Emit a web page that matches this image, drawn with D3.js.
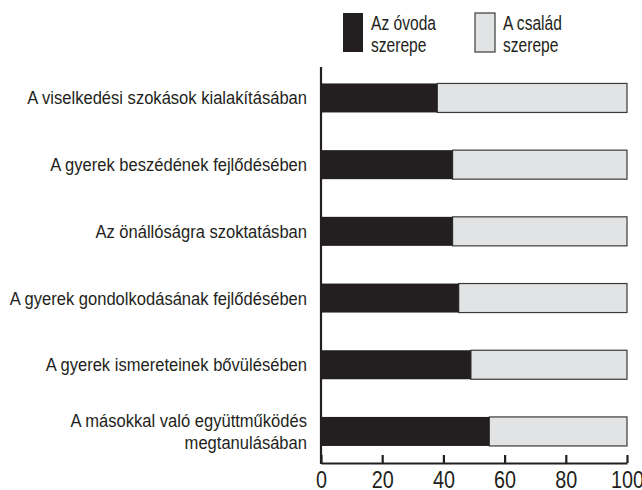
<html>
<head>
<meta charset="utf-8">
<style>
  body { margin: 0; background: #fff; }
  svg text { font-family: "Liberation Sans", Arial, sans-serif; fill: #231f20; }
</style>
</head>
<body>
<svg class="chart" width="642" height="490"></svg>
<script src="https://d3js.org/d3.v7.min.js"></script>
<script>
// categories, top to bottom (multi-line labels split with |)
var categories = [
  "A viselkedési szokások kialakításában",
  "A gyerek beszédének fejlődésében",
  "Az önállóságra szoktatásban",
  "A gyerek gondolkodásának fejlődésében",
  "A gyerek ismereteinek bővülésében",
  "A másokkal való együttműködés|megtanulásában"
];
var ovoda = [38, 43, 43, 45, 49, 55];
var csalad = [62, 57, 57, 55, 51, 45];
var seriesNames = [["Az óvoda", "szerepe"], ["A család", "szerepe"]];
var seriesColors = ["#231f20", "#e2e3e4"];
var ticks = [0, 20, 40, 60, 80, 100];

// the original uses a condensed face, so squeeze a regular one horizontally
function squeeze(s) { return 'scale(' + s + ',1)'; }

var svg = d3.select('.chart');

var x = d3.scaleLinear().domain([0, 100]).range([321, 627]);
var y = d3.scaleBand()
  .domain(categories)
  .range([64.6, 464.8])
  .paddingInner(0.565)
  .paddingOuter(0.2825);

var rows = svg.selectAll('g.row')
  .data(categories)
  .enter()
  .append('g')
  .attr('class', 'row')
  .attr('transform', function(d) { return 'translate(0,' + y(d) + ')'; });

// light (family) part, then the dark part
rows.append('rect')
  .attr('x', function(d, i) { return x(ovoda[i]); })
  .attr('width', function(d, i) { return x(ovoda[i] + csalad[i]) - x(ovoda[i]); })
  .attr('height', y.bandwidth())
  .style('fill', seriesColors[1])
  .style('stroke', '#3a3a3a')
  .style('stroke-width', 1.2);

rows.append('rect')
  .attr('x', x(0))
  .attr('width', function(d, i) { return x(ovoda[i]) - x(0); })
  .attr('height', y.bandwidth())
  .style('fill', seriesColors[0]);

// category labels
rows.append('text')
  .attr('text-anchor', 'end')
  .attr('transform', 'translate(307,0) ' + squeeze(0.895))
  .style('font-size', '18.5px')
  .each(function(d) {
    var lines = d.split('|');
    var t = d3.select(this);
    var mid = y.bandwidth() / 2;
    lines.forEach(function(line, j) {
      t.append('tspan')
        .attr('x', 0)
        .attr('y', mid + 6.5 + (j - (lines.length - 1) / 2) * 22)
        .text(line);
    });
  });

// x axis, ticks pointing up
var xAxis = d3.axisBottom(x)
  .tickValues(ticks)
  .tickSize(-8)
  .tickSizeOuter(0)
  .tickPadding(9);

var gx = svg.append('g')
  .attr('transform', 'translate(0,463)')
  .call(xAxis);
gx.select('.domain').attr('stroke', '#231f20').attr('stroke-width', 2.2);
gx.selectAll('.tick line').attr('stroke', '#231f20').attr('stroke-width', 2.2);
gx.selectAll('.tick text')
  .attr('transform', squeeze(0.86))
  .style('font-family', '"Liberation Sans", Arial, sans-serif')
  .style('font-size', '23px')
  .style('fill', '#231f20');

// vertical axis line
svg.append('line')
  .attr('x1', x(0)).attr('x2', x(0))
  .attr('y1', 67).attr('y2', 464)
  .attr('stroke', '#231f20')
  .attr('stroke-width', 2.2);

// legend
var legendX = [343, 475];
var legend = svg.selectAll('g.legend')
  .data(seriesNames)
  .enter()
  .append('g')
  .attr('class', 'legend')
  .attr('transform', function(d, i) { return 'translate(' + legendX[i] + ',13)'; });

legend.append('rect')
  .attr('width', 20)
  .attr('height', 39)
  .style('fill', function(d, i) { return seriesColors[i]; })
  .style('stroke', function(d, i) { return i ? '#3a3a3a' : 'none'; })
  .style('stroke-width', 1.2);

legend.append('text')
  .attr('transform', 'translate(28,0) ' + squeeze(0.8))
  .style('font-size', '19.5px')
  .each(function(d) {
    var t = d3.select(this);
    d.forEach(function(line, j) {
      t.append('tspan').attr('x', 0).attr('y', 16.5 + j * 22.5).text(line);
    });
  });
</script>
</body>
</html>
